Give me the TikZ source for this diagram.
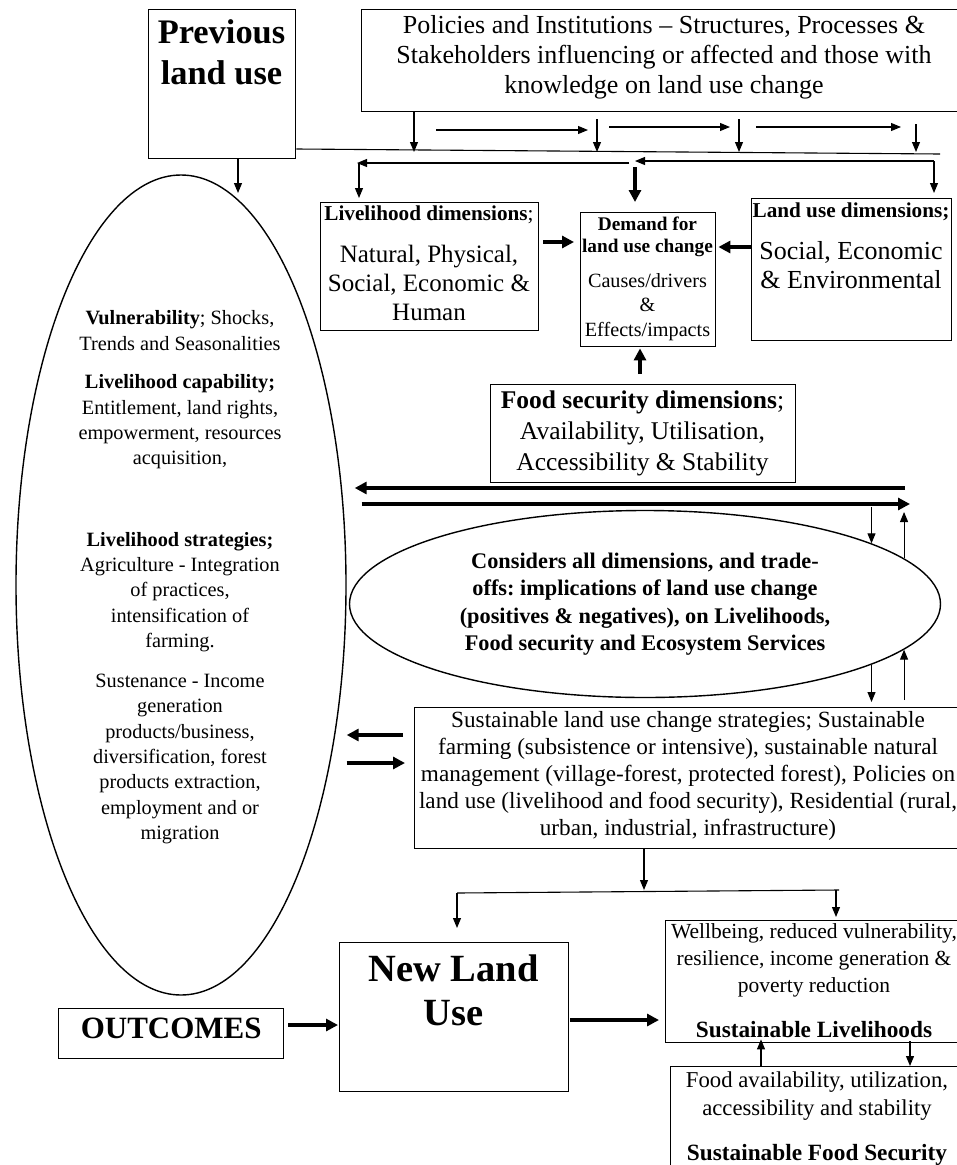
\documentclass[tikz,border=0pt]{standalone}
\usepackage{fontspec}
\setmainfont{Liberation Serif}
\usetikzlibrary{arrows.meta,positioning,shapes.geometric,calc}
\newcommand{\fsz}[2]{\fontsize{#1}{#2}\selectfont}
\frenchspacing
\tikzset{
	box/.style={draw, line width=1.4pt, anchor=north west, inner sep=0pt},
	lbl/.style={align=center, inner sep=0pt},
	ovaltxt/.style={lbl, font=\fsz{20.3}{25.3}},
	oval/.style={draw, ellipse, line width=1.4pt, inner sep=0pt},
	link/.style={line width=1.1pt},
	arr/.style={-{Triangle[width=8pt,length=10pt]}, line width=1.1pt},
	bigarr/.style={-{Triangle[width=12pt,length=12pt]}, line width=4.2pt}
}

\begin{document}
\begin{tikzpicture}[x=1pt,y=-1pt]
	\useasboundingbox (0,0) rectangle (957,1165);
	
	% boxes and ovals
	\node[box, minimum width=147, minimum height=149] (prev) at (148,9) {};
	\node[box, minimum width=606, minimum height=102] (pol) at (361,9) {};
	\node[box, minimum width=218, minimum height=128] (livd) at (320,202) {};
	\node[box, minimum width=135, minimum height=134] (demand) at (580,212) {};
	\node[box, minimum width=200, minimum height=142] (landd) at (751,198) {};
	\node[box, minimum width=305, minimum height=98] (foodd) at (490,384) {};
	\node[box, minimum width=548, minimum height=141] (strat) at (414,707) {};
	\node[box, minimum width=229, minimum height=149] (newlu) at (339,942) {};
	\node[box, minimum width=225, minimum height=50, text depth=10pt, font=\bfseries\fsz{31}{36}] (outc) at (58,1008) {OUTCOMES};
	\node[box, minimum width=298, minimum height=122] (wellb) at (665,920) {};
	\node[box, minimum width=294, minimum height=130] (foodo) at (670,1066) {};
	\node[oval, minimum width=330, minimum height=820] (livel) at (181,585) {};
	\node[oval, minimum width=591, minimum height=187, align=center, font=\bfseries\fsz{22.3}{27.5}] (trade) at (645,604)
		{Considers all dimensions, and trade-\\offs: implications of land use change\\(positives \& negatives), on Livelihoods,\\Food security and Ecosystem Services};
	
	% texts
	\node[lbl, font=\bfseries\fsz{34.4}{41}] (prevt) at (221.5,52) {Previous\\land use};
	\node[lbl, font=\fsz{26}{30}] (polt) at (664,57) {Policies and Institutions -- Structures, Processes \&\\Stakeholders influencing or affected and those with\\knowledge on land use change};
	\node[lbl, font=\fsz{21.2}{25}] (livdh) at (429,215) {\textbf{Livelihood dimensions};};
	\node[lbl, font=\fsz{25}{29}] (livdt) at (429,283) {Natural, Physical,\\Social, Economic \&\\Human};
	\node[lbl, font=\bfseries\fsz{19.3}{22}] (demandh) at (647.5,237) {Demand for\\land use change};
	\node[lbl, font=\fsz{20.2}{24.5}] (demandt) at (647.5,307) {Causes/drivers\\\&\\Effects/impacts};
	\node[lbl, font=\bfseries\fsz{21.2}{25}] (landdh) at (851,212) {Land use dimensions;};
	\node[lbl, font=\fsz{26}{29}] (landdt) at (851,265.5) {Social, Economic\\\& Environmental};
	\node[lbl, font=\fsz{25.5}{31}] (fooddt) at (642.5,433) {\textbf{Food security dimensions};\\Availability, Utilisation,\\Accessibility \& Stability};
	\node[ovaltxt] (vuln) at (180,330.5) {\textbf{Vulnerability}; Shocks,\\Trends and Seasonalities};
	\node[ovaltxt] (capab) at (180,422) {\textbf{Livelihood capability;}\\Entitlement, land rights,\\empowerment, resources\\acquisition,};
	\node[ovaltxt] (strats) at (180,592) {\textbf{Livelihood strategies;}\\Agriculture - Integration\\of practices,\\intensification of\\farming.};
	\node[ovaltxt] (susten) at (180,759) {Sustenance - Income\\generation\\products/business,\\diversification, forest\\products extraction,\\employment and or\\migration};
	\node[lbl, font=\fsz{23.2}{27}] (stratt) at (688,776) {Sustainable land use change strategies; Sustainable\\farming (subsistence or intensive), sustainable natural\\management (village-forest, protected forest), Policies on\\land use (livelihood and food security), Residential (rural,\\urban, industrial, infrastructure)};
	\node[lbl, font=\bfseries\fsz{38.5}{44}] (newlut) at (453.5,990) {New Land\\Use};
	\node[lbl, font=\fsz{21.5}{27}] (wellbt) at (814,960) {Wellbeing, reduced vulnerability,\\resilience, income generation \&\\poverty reduction};
	\node[lbl, font=\bfseries\fsz{23.3}{27}] (wellbh) at (814,1030) {Sustainable Livelihoods};
	\node[lbl, font=\fsz{22.7}{28}] (foodot) at (817,1096) {Food availability, utilization,\\accessibility and stability};
	\node[lbl, font=\bfseries\fsz{23.3}{27}] (foodoh) at (817,1155) {Sustainable Food Security};
	
	% top connectors
	\coordinate (busW) at (prev.east |- 0,149);
	\coordinate (busE) at (940,154);
	\draw[link] (busW) -- (busE);
	\foreach \x/\g in {414/0,597/7,739/7,916/12}
		\draw[arr, shorten >=-3pt] ($(pol.south -| \x,0)+(0,\g)$) -- (\x,0 |- busW);
	\foreach \a/\b/\y in {436/588/130,609/730/127,756/901/127}
		\draw[arr] (\a,\y) -- (\b,\y);
	\draw[arr] (629,163) -- (357,163);
	\draw[arr, shorten >=4pt] (359,163) -- (359,0 |- livd.north);
	\draw[arr] (934,161) -- (635,161);
	\draw[arr, shorten >=5pt] (934,161) -- (934,0 |- landd.north);
	\draw[bigarr, shorten >=10pt] (635,167) -- (635,0 |- demand.north);
	\draw[arr] (238,0 |- prev.south) -- (238,193);
	
	% into demand
	\draw[bigarr, shorten <=4pt, shorten >=6pt] (livd.east |- 0,242) -- (demand.west |- 0,242);
	\draw[bigarr, shorten >=2pt] (landd.west |- 0,247) -- (demand.east |- 0,247);
	\draw[bigarr, shorten <=10pt, shorten >=1pt] (foodd.north -| 640,0) -- (demand.south -| 640,0);
	
	% middle
	\draw[bigarr, shorten >=8pt] (905,488) -- (livel.east |- 0,488);
	\draw[bigarr, shorten <=15pt] (livel.east |- 0,504) -- (910,504);
	\draw[arr] (trade.15 |- 0,507) -- (trade.15);
	\draw[arr] (trade.10) -- (trade.10 |- 0,512);
	\draw[arr, shorten >=5pt] (trade.-15) -- (trade.-15 |- strat.north);
	\draw[arr, shorten <=7pt] (trade.-10 |- strat.north) -- (trade.-10);
	\draw[bigarr, shorten <=11pt] (strat.west |- 0,735) -- (livel.east |- 0,735);
	\draw[bigarr, shorten >=9pt] (livel.east |- 0,763) -- (strat.west |- 0,763);
	
	% bottom
	\coordinate (splitL) at (457,893);
	\coordinate (splitR) at (839,890);
	\draw[arr] (strat.south -| 644,0) -- (644,890);
	\draw[link] (splitL) -- (splitR);
	\draw[arr, shorten >=14pt] (splitL) -- (splitL |- newlu.north);
	\draw[arr, shorten >=3pt] (836,890) -- (836,0 |- wellb.north);
	\draw[bigarr, shorten <=4pt, shorten >=1pt] (outc.east |- 0,1025) -- (newlu.west |- 0,1025);
	\draw[bigarr, shorten <=1pt, shorten >=6pt] (newlu.east |- 0,1020) -- (wellb.west |- 0,1020);
	\draw[arr, shorten >=-4pt] (foodo.north -| 761,0) -- (wellb.south -| 761,0);
	\draw[arr, shorten <=-2pt] (wellb.south -| 910,0) -- (foodo.north -| 910,0);
\end{tikzpicture}
\end{document}
